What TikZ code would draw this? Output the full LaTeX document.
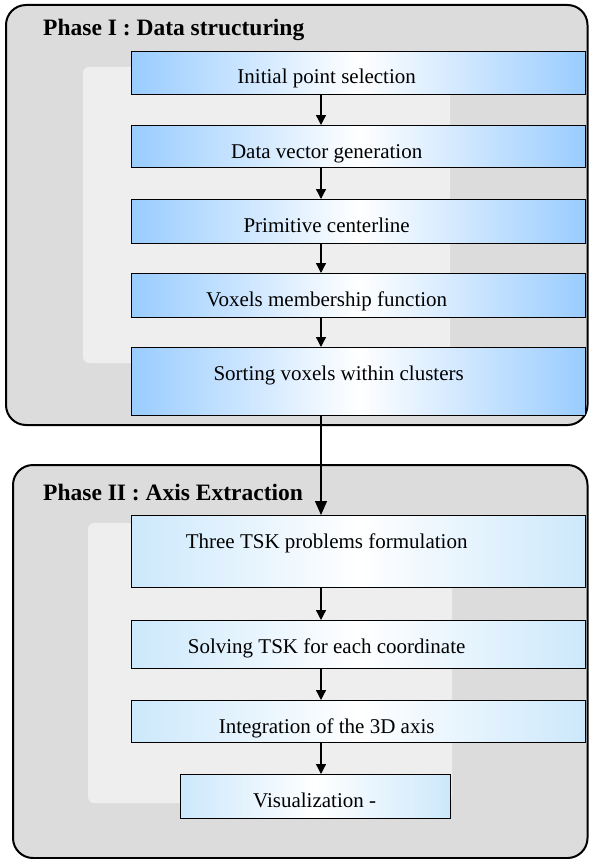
\documentclass[tikz,border=0pt]{standalone}
\usepackage{fontspec}
\setmainfont{Liberation Serif}
\usetikzlibrary{arrows.meta}
\definecolor{phasegray}{HTML}{DCDCDC}
\definecolor{innergray}{HTML}{EEEEEE}
\definecolor{blueone}{HTML}{99CCFF}
\definecolor{bluetwo}{HTML}{CCE8FC}
\begin{document}
\begin{tikzpicture}[x=1pt,y=-1pt,
    phase/.style={fill=phasegray,line width=2pt,rounded corners=20pt},
    title/.style={anchor=base west,inner sep=0pt,font=\bfseries\fontsize{23.5}{28}\selectfont},
    box/.style={draw,line width=1.3pt,anchor=north west,minimum width=454pt,inner sep=0pt,shading=axis},
    boxI/.style={box,left color=blueone,right color=blueone,middle color=white},
    boxII/.style={box,left color=bluetwo,right color=bluetwo,middle color=white},
    boxtext/.style n args={2}{label={[anchor=base,xshift=#1,yshift=-33pt,font=\fontsize{21}{25}\selectfont]north:#2}},
    flow/.style={line width=1.3pt,-{Triangle[length=10pt,width=10pt]}}]
  \useasboundingbox (0,0) rectangle (589,859);
  \coordinate (axis) at (321,0);
  % phase I
  \draw[phase] (6,5) rectangle (587.5,425);
  \fill[innergray,rounded corners=6pt] (83,67) rectangle (450,363);
  \node[title] (phaseI) at (43,36) {Phase I : Data structuring};
  \node[boxI,minimum height=43pt,boxtext={-32pt}{Initial point selection}] (init) at (131,51) {};
  \node[boxI,minimum height=42pt,boxtext={-32pt}{Data vector generation}] (vec) at (131,125) {};
  \node[boxI,minimum height=44pt,boxtext={-32pt}{Primitive centerline}] (prim) at (131,199) {};
  \node[boxI,minimum height=44pt,boxtext={-32pt}{Voxels membership function}] (memb) at (131,273) {};
  \node[boxI,minimum height=68pt,boxtext={-20pt}{Sorting voxels within clusters}] (sort) at (131,347) {};
  % phase II
  \draw[phase] (13,465) rectangle (587.5,858);
  \fill[innergray,rounded corners=6pt] (88,523) rectangle (452,803);
  \node[title] (phaseII) at (43,500) {Phase II : Axis Extraction};
  \node[boxII,minimum height=72pt,boxtext={-32pt}{Three TSK problems formulation}] (tsk) at (131,515) {};
  \node[boxII,minimum height=48pt,boxtext={-32pt}{Solving TSK for each coordinate}] (solve) at (131,620) {};
  \node[boxII,minimum height=42pt,boxtext={-32pt}{Integration of the 3D axis}] (integ) at (131,700) {};
  \node[boxII,minimum width=270pt,minimum height=44pt,boxtext={-1pt}{Visualization -}] (vis) at (180,774) {};
  % arrows
  \draw[flow] (init.south -| axis) -- (vec.north -| axis);
  \draw[flow] (vec.south -| axis) -- (prim.north -| axis);
  \draw[flow] (prim.south -| axis) -- (memb.north -| axis);
  \draw[flow] (memb.south -| axis) -- (sort.north -| axis);
  \draw[flow,-{Triangle[length=14pt,width=12pt]}] (sort.south -| axis) -- (tsk.north -| axis);
  \draw[flow] (tsk.south -| axis) -- (solve.north -| axis);
  \draw[flow] (solve.south -| axis) -- (integ.north -| axis);
  \draw[flow] (integ.south -| axis) -- (vis.north -| axis);
\end{tikzpicture}
\end{document}
